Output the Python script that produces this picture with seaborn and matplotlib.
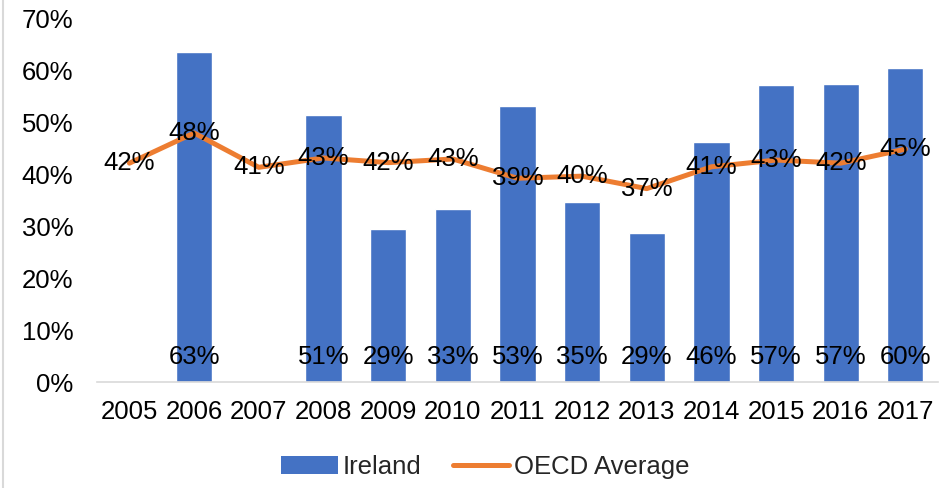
import matplotlib
matplotlib.use("Agg")
import matplotlib.pyplot as plt
import seaborn as sns
import pandas as pd
import numpy as np
from matplotlib.lines import Line2D
from matplotlib.patches import Patch

years = ["2005", "2006", "2007", "2008", "2009", "2010", "2011",
         "2012", "2013", "2014", "2015", "2016", "2017"]
ireland_years = ["2006", "2008", "2009", "2010", "2011", "2012",
                 "2013", "2014", "2015", "2016", "2017"]
ireland = [0.634, 0.513, 0.294, 0.333, 0.531, 0.346, 0.286,
           0.462, 0.572, 0.574, 0.604]
oecd = [0.421, 0.479, 0.413, 0.431, 0.422, 0.429, 0.392,
        0.396, 0.372, 0.414, 0.427, 0.421, 0.448]
yticks = [0, 0.1, 0.2, 0.3, 0.4, 0.5, 0.6, 0.7]

bar_color = "#4472C4"
line_color = "#ED7D31"
fs = 18.5

sns.set_theme(style="white")
plt.rcParams["font.family"] = ["Liberation Sans", "DejaVu Sans"]

fig = plt.figure(figsize=(9.52, 4.88), dpi=100)
ax = fig.add_axes([0.102, 0.217, 0.883, 0.746])

df = pd.DataFrame({"Year": ireland_years, "Ireland": ireland})
sns.barplot(data=df, x="Year", y="Ireland", order=years, color=bar_color,
            saturation=1, width=0.56, errorbar=None, ax=ax, zorder=2)

xpos = np.arange(len(years))
sns.lineplot(x=xpos, y=oecd, color=line_color, linewidth=3.6, ax=ax,
             zorder=3, sort=False)

# bar labels at inside base
for yr, v in zip(ireland_years, ireland):
    i = years.index(yr)
    ax.text(i, 0.048, f"{v:.0%}", ha="center", va="center",
            fontsize=fs, color="black", zorder=4)

# line labels centred on the points
for i, v in enumerate(oecd):
    ax.text(i, v, f"{v:.0%}", ha="center", va="center",
            fontsize=fs, color="black", zorder=4)

ax.set_ylim(0, 0.7)
ax.set_xlim(-0.5, len(years) - 0.5)
ax.set_yticks(yticks)
ax.set_yticklabels([f"{t:.0%}" for t in yticks], fontsize=fs)
ax.set_xticks(xpos)
ax.set_xticklabels(years, fontsize=fs)
ax.tick_params(axis="both", length=0, colors="black")
ax.tick_params(axis="x", pad=13)
ax.tick_params(axis="y", pad=17)
ax.set_xlabel("")
ax.set_ylabel("")
sns.despine(ax=ax, left=True, top=True, right=True)
ax.spines["bottom"].set_color("#D9D9D9")
ax.spines["bottom"].set_linewidth(1.2)

handles = [Patch(facecolor=bar_color, edgecolor="none"),
           Line2D([0], [0], color=line_color, linewidth=3.6)]
fig.legend(handles, ["Ireland", "OECD Average"], loc="center",
           bbox_to_anchor=(0.51, 0.043), ncol=2, frameon=False,
           fontsize=fs, handlelength=2.2, handleheight=0.7,
           columnspacing=1.2, handletextpad=0.2)

# light frame line on the left edge
fig.add_artist(Line2D([0.003, 0.003], [0, 1], color="#D9D9D9",
                      linewidth=1.5, transform=fig.transFigure))

fig.savefig("out.png", dpi=100)
